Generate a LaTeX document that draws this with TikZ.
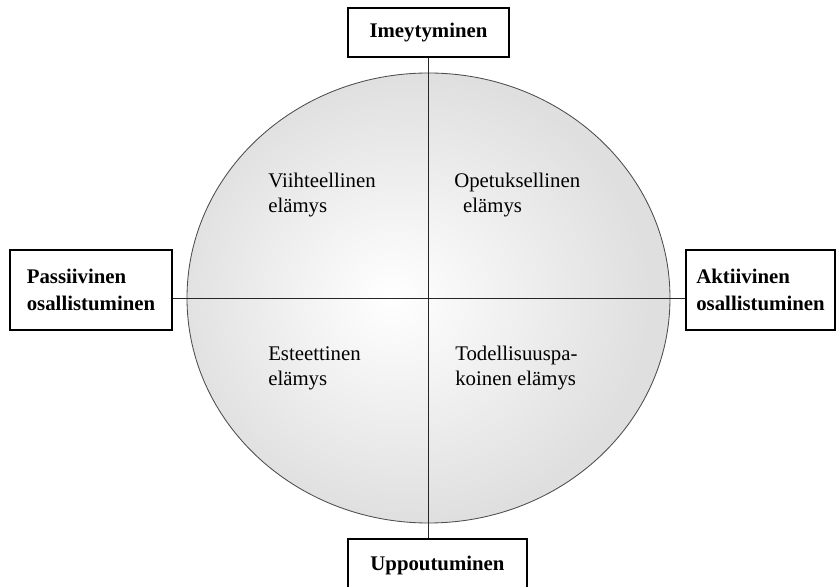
\documentclass[tikz,border=0pt]{standalone}
\usepackage{fontspec}
\setmainfont{Liberation Serif}
\usepackage{tikz}
\usetikzlibrary{shapes.geometric}
\definecolor{rimgray}{RGB}{223,223,223}
\pgfdeclareradialshading{softball}{\pgfpoint{-4bp}{0bp}}{color(0bp)=(white); color(25bp)=(rimgray); color(50bp)=(rimgray)}
\tikzset{
    every node/.style={inner sep=0mm},
    box/.style={rectangle, draw, line width=0.8pt, align=left, font=\fontsize{14.8}{19.2}\selectfont\bfseries},
    quad/.style={align=left, anchor=base west, font=\fontsize{14.8}{17.8}\selectfont},
    axis/.style={line width=0.7pt, black!85}
}

\begin{document}
\begin{tikzpicture}
        \useasboundingbox (-10.712500cm, -7.225000cm) rectangle (10.187500cm, 7.450000cm);
        \node (e) [ellipse, draw=black!70, line width=0.6pt, shade, shading=softball, minimum width=12.075000cm, minimum height=11.250000cm] at (0.000000cm, 0.000000cm) {};
        \node (top) [box, minimum width=4.025000cm, minimum height=1.225000cm] at (0.000000cm, 6.637500cm) {Imeytyminen};
        \node (bot) [box, minimum width=4.475000cm, minimum height=1.300000cm] at (0.225000cm, -6.675000cm) {Uppoutuminen};
        \node (pass) [box, minimum width=4.050000cm, minimum height=2.000000cm] at (-8.437500cm, 0.200000cm) {Passiivinen\\osallistuminen};
        \node (akt) [box, minimum width=3.725000cm, minimum height=2.000000cm] at (8.300000cm, 0.200000cm) {Aktiivinen\\osallistuminen};
        % quadrant texts, placed by the baseline of their last line
        \node (vii) [quad] at (-4.012500cm, 2.125000cm) {Viihteellinen\\elämys};
        \node (ope) [quad] at (0.637500cm, 2.125000cm) {Opetuksellinen\\\hspace{0.22cm}elämys};
        \node (est) [quad] at (-4.012500cm, -2.200000cm) {Esteettinen\\elämys};
        \node (tod) [quad] at (0.662500cm, -2.200000cm) {Todellisuuspa-\\koinen elämys};
        \draw [axis] (e.center |- top.south) -- (e.center |- bot.north);
        \draw [axis] (e.center -| pass.east) -- (e.center -| akt.west);
\end{tikzpicture}
\end{document}
